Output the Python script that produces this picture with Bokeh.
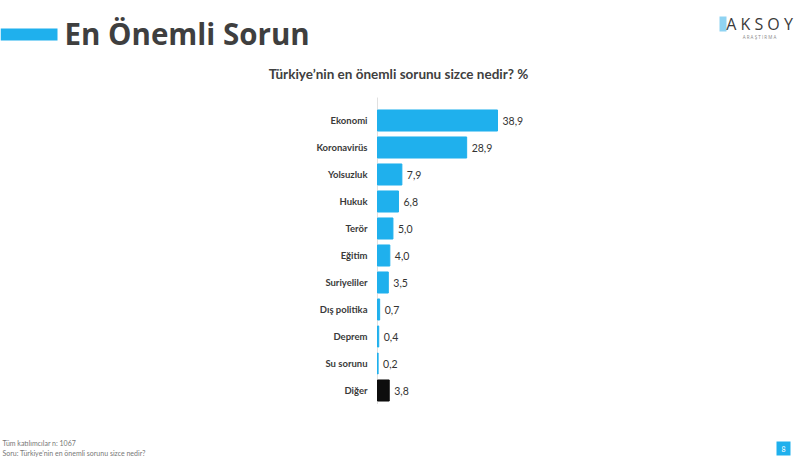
from bokeh.plotting import figure
from bokeh.models import Range1d, ColumnDataSource, Label, BoxAnnotation
from bokeh.core.properties import value
from bokeh.embed import file_html
from bokeh.resources import INLINE

categories = ["Ekonomi", "Koronavirüs", "Yolsuzluk", "Hukuk", "Terör", "Eğitim",
              "Suriyeliler", "Dış politika", "Deprem", "Su sorunu", "Diğer"]
values = [38.9, 28.9, 7.9, 6.8, 5.0, 4.0, 3.5, 0.7, 0.4, 0.2, 3.8]
value_labels = ["38,9", "28,9", "7,9", "6,8", "5,0", "4,0", "3,5", "0,7", "0,4", "0,2", "3,8"]
bar_colors = ["#1fb0ed"] * 10 + ["#0d0d0d"]

W, H = 800, 463
X0 = 377          # page x of value 0
PX_PER_UNIT = 3.085
Y_TOP = 120       # page y of first category centre
STEP = 27         # pixels per category
n = len(categories)
ypos = [n - 1 - i for i in range(n)]

x_range = Range1d(-X0 / PX_PER_UNIT, (W - X0) / PX_PER_UNIT)
y_range = Range1d(-(H - (Y_TOP + (n - 1) * STEP)) / STEP, (n - 1) + Y_TOP / STEP)

p = figure(width=W, height=H, x_range=x_range, y_range=y_range,
           output_backend="svg", toolbar_location=None,
           x_axis_location=None, y_axis_location=None, min_border=0)
p.xgrid.visible = False
p.ygrid.visible = False
p.outline_line_color = None
p.background_fill_color = "white"

src = ColumnDataSource(dict(cat=categories, y=ypos, val=values, lab=value_labels, col=bar_colors,
                            zero=[0] * n))
# axis line
p.segment(x0=0, x1=0, y0=-0.5, y1=n - 0.15, line_color="#e0e0e0", line_width=1)
p.hbar(y="y", right="val", left=0, height=0.78, color="col", source=src)
p.text(x="val", y="y", text="lab", source=src, x_offset=5, text_baseline="middle",
       text_font_size="10.5px", text_color="#333333", text_font=value("Lato"))
p.text(x="zero", y="y", text="cat", source=src, x_offset=-10, text_align="right",
       text_baseline="middle", text_font_size="9.5px", text_color="#3a3a3a",
       text_font=value("Lato"), text_font_style="bold")

def lab(x, y, text, size, color="#404040", style="normal", align="left", font="Lato"):
    p.add_layout(Label(x=x, y=H - y, x_units="screen", y_units="screen", text=text,
                       text_font_size=size, text_color=color, text_font_style=style,
                       text_align=align, text_baseline="middle", text_font=font))

def box(x0, y0, x1, y1, color):
    p.add_layout(BoxAnnotation(left=x0, right=x1, top=H - y0, bottom=H - y1,
                               left_units="screen", right_units="screen",
                               top_units="screen", bottom_units="screen",
                               fill_color=color, fill_alpha=1, line_color=None))

box(0, 28, 57, 40, "#1fb0ed")
lab(64, 33, "En Önemli Sorun", "29.5px", color="#3f3f3f", style="bold", font="Open Sans")
lab(398, 73, "Türkiye’nin en önemli sorunu sizce nedir? %", "13.5px", color="#404040", style="bold", align="center")

box(719, 16, 726, 31, "#8fd3f2")
lab(759, 23, "A K S O Y", "16px", color="#3a3a3a", align="center", font="Open Sans")
lab(759, 36, "A R A Ş T I R M A", "4.5px", color="#888888", align="center", font="Open Sans")

lab(2, 442, "Tüm katılımcılar n: 1067", "7px", color="#777777")
lab(2, 452, "Soru: Türkiye’nin en önemli sorunu sizce nedir?", "7px", color="#777777")

box(776, 441, 790, 455, "#1fb0ed")
lab(783, 448, "8", "7px", color="#ffffff", align="center")

open("out.html", "w").write(file_html(p, INLINE))
